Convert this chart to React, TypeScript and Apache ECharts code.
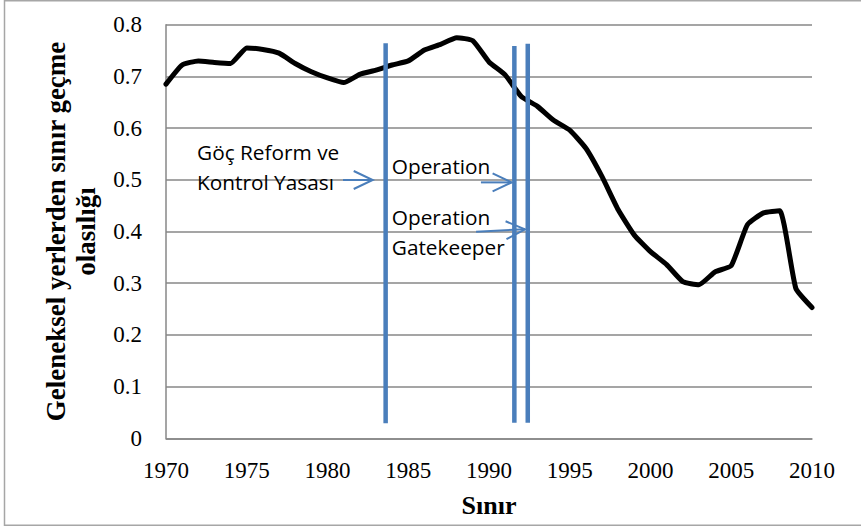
import React, { useEffect, useRef } from "react";
import * as echarts from "echarts";

// Main series: probability of crossing at traditional locations, by year
const years = [
  1970, 1971, 1972, 1973, 1974, 1975, 1976, 1977, 1978, 1979,
  1980, 1981, 1982, 1983, 1984, 1985, 1986, 1987, 1988, 1989,
  1990, 1991, 1992, 1993, 1994, 1995, 1996, 1997, 1998, 1999,
  2000, 2001, 2002, 2003, 2004, 2005, 2006, 2007, 2008, 2009, 2010,
];
const probability = [
  0.685, 0.722, 0.73, 0.727, 0.725, 0.755, 0.752, 0.745, 0.725, 0.709,
  0.697, 0.688, 0.704, 0.712, 0.722, 0.73, 0.751, 0.762, 0.775, 0.769,
  0.728, 0.703, 0.661, 0.642, 0.615, 0.596, 0.561, 0.506, 0.442, 0.393,
  0.361, 0.336, 0.303, 0.297, 0.322, 0.334, 0.413, 0.436, 0.44, 0.29, 0.253,
];

// Event markers (vertical lines), in data units
const eventYears = [1983.6, 1991.57, 1992.4];
const eventBottom = [0.029, 0.03, 0.03];
const eventTop = [0.764, 0.759, 0.763];

// Annotation texts, anchored (left, middle) in data units
const noteTexts = ["Göç Reform ve\nKontrol Yasası", "Operation", "Operation\nGatekeeper"];
const noteX = [1971.92, 1983.98, 1983.98];
const noteY = [0.5256, 0.5267, 0.399];

// Arrows, in data units
const arrowFrom = [[1980.96, 0.4996], [1989.5, 0.495], [1989.2, 0.3996]];
const arrowTo = [[1982.8, 0.4996], [1991.4, 0.495], [1992.23, 0.4043]];

const xTickMin = 1970;
const xTickMax = 2010;
const xTickStep = 5;
const yTickMin = 0;
const yTickMax = 0.8;
const yTickStep = 0.1;

const BLUE = "#4a7ebb";
const GRID = "#878787";
const SERIF = "Liberation Serif";

export default function App() {
  const ref = useRef<HTMLDivElement>(null);

  useEffect(() => {
    if (!ref.current) return;
    const chart = echarts.init(ref.current, undefined, { renderer: "svg" });

    const eventSeries = eventYears.map((yr, i) => ({
      type: "line",
      data: [
        [yr, eventBottom[i]],
        [yr, eventTop[i]],
      ],
      showSymbol: false,
      symbol: "none",
      silent: true,
      z: 5,
      lineStyle: { color: BLUE, width: 4.5, cap: "butt" },
    }));

    const tickRich = {
      t: { color: "#000", fontFamily: SERIF, fontSize: 23, lineHeight: 26 },
    };

    chart.setOption({
      animation: false,
      textStyle: { fontFamily: SERIF },
      grid: { left: 166, right: 49, top: 24.7, bottom: 88.7, containLabel: false },
      xAxis: {
        type: "value",
        min: xTickMin,
        max: xTickMax,
        interval: xTickStep,
        axisLine: { show: true, lineStyle: { color: GRID, width: 1.5 } },
        axisTick: { show: false },
        splitLine: { show: false },
        axisLabel: {
          color: "#000",
          fontFamily: SERIF,
          fontSize: 23,
          margin: 19,
          formatter: (v: number) => "{t|" + String(Math.round(v)) + "}",
          rich: tickRich,
        },
        name: "Sınır",
        nameLocation: "middle",
        nameGap: 54,
        nameTextStyle: {
          color: "#000",
          fontFamily: SERIF,
          fontWeight: "bold",
          fontSize: 26,
        },
      },
      yAxis: {
        type: "value",
        min: yTickMin,
        max: yTickMax,
        interval: yTickStep,
        axisLine: { show: true, lineStyle: { color: GRID, width: 1.5 } },
        axisTick: { show: false },
        splitLine: { show: true, lineStyle: { color: GRID, width: 1.5 } },
        axisLabel: {
          color: "#000",
          fontFamily: SERIF,
          fontSize: 23,
          margin: 24,
          formatter: (v: number) => "{t|" + String(+v.toFixed(1)) + "}",
          rich: tickRich,
        },
        name: "Geleneksel yerlerden sınır geçme\nolasılığı",
        nameLocation: "middle",
        nameRotate: 90,
        nameGap: 65,
        nameTextStyle: {
          color: "#000",
          fontFamily: SERIF,
          fontWeight: "bold",
          fontSize: 27,
          lineHeight: 30,
        },
      },
      series: [
        {
          type: "line",
          data: years.map((y, i) => [y, probability[i]]),
          showSymbol: false,
          symbol: "none",
          smooth: 0.15,
          z: 3,
          lineStyle: { color: "#000", width: 5, join: "round", cap: "round" },
        },
        ...eventSeries,
      ],
    });

    const px = (p: number[]) => chart.convertToPixel({ gridIndex: 0 }, p) as number[];

    const graphics: any[] = [
      {
        type: "rect",
        silent: true,
        shape: { x: 4.5, y: 0.75, width: 900, height: 524.5 },
        style: { fill: "none", stroke: "#a6a6a6", lineWidth: 1.5 },
      },
    ];

    noteTexts.forEach((t, i) => {
      const p = px([noteX[i], noteY[i]]);
      graphics.push({
        type: "text",
        x: p[0],
        y: p[1],
        z: 10,
        style: {
          text: t,
          fill: "#000",
          fontFamily: "Open Sans",
          fontSize: 20.8,
          lineHeight: 30,
          align: "left",
          verticalAlign: "middle",
        },
      });
    });

    arrowFrom.forEach((a, i) => {
      const s = px(a);
      const e = px(arrowTo[i]);
      const dx = e[0] - s[0];
      const dy = e[1] - s[1];
      const len = Math.hypot(dx, dy) || 1;
      const ux = dx / len;
      const uy = dy / len;
      const nx = -uy;
      const ny = ux;
      const hl = 19;
      const hw = 9;
      const style = { stroke: BLUE, lineWidth: 2, fill: "none" };
      graphics.push({
        type: "line",
        z: 10,
        shape: { x1: s[0], y1: s[1], x2: e[0], y2: e[1] },
        style,
      });
      graphics.push({
        type: "polyline",
        z: 10,
        shape: {
          points: [
            [e[0] - ux * hl + nx * hw, e[1] - uy * hl + ny * hw],
            [e[0], e[1]],
            [e[0] - ux * hl - nx * hw, e[1] - uy * hl - ny * hw],
          ],
        },
        style,
      });
    });

    chart.setOption({ graphic: graphics });

    return () => chart.dispose();
  }, []);

  return (
    <div
      ref={ref}
      style={{ position: "fixed", left: 0, top: 0, width: 861, height: 527, background: "#fff" }}
    />
  );
}
